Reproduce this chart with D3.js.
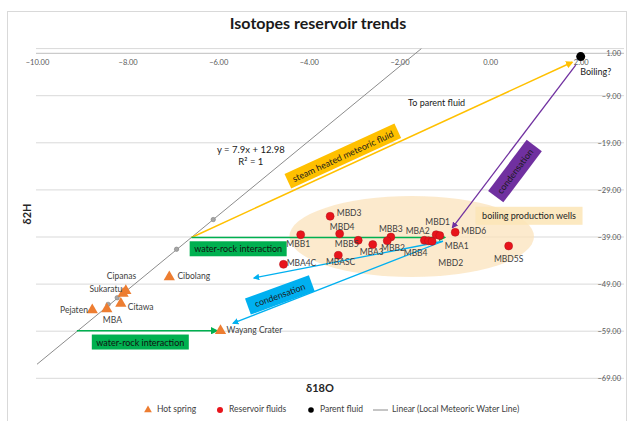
<!DOCTYPE html>
<html><head><meta charset="utf-8">
<script src="https://cdn.jsdelivr.net/npm/d3@7"></script>
<style>
body{margin:0;background:#fff;}
svg{font-family:Lato,"Open Sans","Liberation Sans",sans-serif;}
</style>
</head><body>
<svg id="chart" width="636" height="421"></svg>
<script>
// ---------- DATA ----------
const xTickValues = [-10, -8, -6, -4, -2, 0, 2];
const yTickValues = [1, -9, -19, -29, -39, -49, -59, -69];

const reservoirNames = ["MBD3","MBB1","MBD4","MBB5","MBA3","MBB3","MBB2","MBA2","MBB4","MBD2","MBD1","MBA1","MBD6","MBD5S","MBASC","MBA4C"];
const reservoirD18O  = [-3.53,-4.18,-3.32,-2.91,-2.59,-2.19,-2.27,-1.45,-1.36,-1.28,-1.19,-1.11,-0.77,0.41,-3.35,-4.56];
const reservoirD2H   = [-34.6,-38.5,-38.3,-39.7,-40.6,-39.0,-39.8,-39.7,-39.8,-39.9,-38.5,-38.7,-38.0,-40.9,-42.9,-44.8];

const hotSpringNames = ["Cipanas","Sukaratu","Citawa","MBA","Pejaten","Cibolang","Wayang Crater"];
const hotSpringD18O  = [-8.04,-8.10,-8.15,-8.46,-8.78,-7.08,-5.95];
const hotSpringD2H   = [-50.4,-51.0,-53.1,-54.3,-54.5,-47.5,-58.9];

const parentNames = ["Boiling?"];
const parentD18O  = [2.0];
const parentD2H   = [-0.7];

const lmwlD18O = [-6.11,-6.92,-8.23,-8.43];
const lmwlD2H  = [-35.3,-41.6,-51.9,-53.3];
const lmwlSlope = 7.9, lmwlIntercept = 12.98;

const legendLabels = ["Hot spring","Reservoir fluids","Parent fluid","Linear (Local Meteoric Water Line)"];

// ---------- LAYOUT (label offsets in px, annotations in data units) ----------
const reservoirLabelOffset = {
  MBD3:[19,-2], MBB1:[-2.5,10], MBD4:[2.5,-6], MBB5:[-11.5,4.3], MBA3:[-1,8.8],
  MBB3:[0,-7.5], MBB2:[5.7,7.6], MBA2:[-6.7,-8.3], MBB4:[-12.8,12.6], MBD2:[18.6,22.3],
  MBD1:[1.5,-12], MBA1:[17,11.4], MBD6:[18.5,0], MBD5S:[0,13.5], MBASC:[2.3,7.5], MBA4C:[18,0]
};
const hotLabelOffset = {
  Cipanas:[-4.3,-14], Sukaratu:[-17.3,-3.5], Citawa:[19.8,4], MBA:[5.6,11.7],
  Pejaten:[-18.3,0.7], Cibolang:[24.5,0], "Wayang Crater":[34,0]
};

const arrows = [
  {color:"#FFC000", from:[-6.59,-39.1], to:[1.81,-1.9], w:1.5},
  {color:"#00B050", from:[-6.59,-39.1], to:[-1.00,-39.1], w:1.5},
  {color:"#00B050", from:[-9.12,-58.9], to:[-6.03,-58.9], w:1.5},
  {color:"#7030A0", from:[1.89,-2.5], to:[-0.83,-37.0], w:1.3},
  {color:"#00B0F0", from:[-1.04,-39.9], to:[-5.21,-47.7], w:1.3},
  {color:"#00B0F0", from:[-1.04,-39.9], to:[-5.67,-57.3], w:1.3}
];

const boxes = [
  {text:"steam heated meteoric fluid", c:[-3.25,-21.8], w:121, h:16, fill:"#FFC000", color:"#1a1a1a", alongArrow:0},
  {text:"water-rock interaction", c:[-5.56,-41.5], w:97, h:15, fill:"#00B050", color:"#111", angle:0},
  {text:"water-rock interaction", c:[-7.72,-61.3], w:97, h:15, fill:"#00B050", color:"#111", angle:0},
  {text:"condensation", c:[0.55,-25.0], w:64, h:19, fill:"#7030A0", color:"#1a1a1a", angle:-53},
  {text:"condensation", c:[-4.64,-51.3], w:68, h:17, fill:"#00B0F0", color:"#1a1a1a", angle:-20},
  {text:"boiling production wells", c:[0.86,-34.5], w:107, h:18, fill:"#FCE5B6", color:"#222", angle:0, opacity:0.85}
];

const ellipseData = {cx:-1.73, cy:-38.9, rx:2.7, ry:8.6};

// ---------- CHART ----------
const svg = d3.select("#chart");
const x = d3.scaleLinear().domain([-10, 3]).range([37, 626]);
const y = d3.scaleLinear().domain([-69, 1]).range([378.3, 48.6]);

// frame
svg.append("rect").attr("x",7.5).attr("y",11.5).attr("width",619).attr("height",412)
  .attr("fill","#fff").attr("stroke","#D9D9D9");

// title
svg.append("text").attr("x",318).attr("y",29).attr("text-anchor","middle")
  .attr("font-size",16).attr("font-weight","bold").attr("fill","#1a1a1a")
  .text("Isotopes reservoir trends");

// gridlines (horizontal)
svg.append("g").selectAll("line").data(yTickValues).join("line")
  .attr("x1",x(-10)-1).attr("x2",x(3)-2)
  .attr("y1",d=>y(d)).attr("y2",d=>y(d))
  .attr("stroke","#D9D9D9").attr("stroke-width",1);

// x axis line at y = 0 with labels
const xAxis = d3.axisBottom(x).tickValues(xTickValues).tickSize(0).tickPadding(6)
  .tickFormat(d3.format(".2f"));
const gx = svg.append("g").attr("transform",`translate(0,${y(0)})`).call(xAxis);
gx.select(".domain").attr("stroke","#BFBFBF").attr("d",`M${x(-10)-1},0H${x(3)-2}`);
gx.selectAll("text").attr("font-size",7.5).attr("fill","#595959").attr("font-family","Lato, sans-serif");

// y axis labels on right
const yAxis = d3.axisLeft(y).tickValues(yTickValues).tickSize(0).tickPadding(0)
  .tickFormat(d3.format(".2f"));
const gy = svg.append("g").attr("transform",`translate(621,0)`).call(yAxis);
gy.select(".domain").remove();
gy.selectAll("text").attr("font-size",7.5).attr("fill","#595959").attr("font-family","Lato, sans-serif")
  .attr("dy", d => d===1 ? "0.95em" : "0.32em");

// axis titles
svg.append("text").attr("x",320).attr("y",392).attr("text-anchor","middle")
  .attr("font-size",11).attr("font-weight","bold").attr("fill","#262626").text("δ18O");
svg.append("text").attr("transform","translate(31,214) rotate(-90)").attr("text-anchor","middle")
  .attr("font-size",11).attr("font-weight","bold").attr("fill","#262626").text("δ2H");

// ellipse
svg.append("ellipse")
  .attr("cx",x(ellipseData.cx)).attr("cy",y(ellipseData.cy))
  .attr("rx",x(ellipseData.cx+ellipseData.rx)-x(ellipseData.cx))
  .attr("ry",y(ellipseData.cy-ellipseData.ry)-y(ellipseData.cy))
  .attr("fill","#FBE3BC").attr("opacity",0.75);

// LMWL trendline
const lmwlX0 = -10, lmwlX1 = (1 - lmwlIntercept)/lmwlSlope;
svg.append("line")
  .attr("x1",x(lmwlX0)).attr("y1",y(lmwlSlope*lmwlX0+lmwlIntercept))
  .attr("x2",x(lmwlX1)).attr("y2",y(1))
  .attr("stroke","#8C8C8C").attr("stroke-width",1);
svg.append("g").selectAll("circle").data(lmwlD18O).join("circle")
  .attr("cx",d=>x(d)).attr("cy",(d,i)=>y(lmwlD2H[i])).attr("r",2.2)
  .attr("fill","#A5A5A5").attr("stroke","#7F7F7F").attr("stroke-width",0.6);

// equation
svg.append("text").attr("x",x(-5.28)).attr("y",y(-20.7)).attr("text-anchor","middle")
  .attr("dominant-baseline","middle").attr("font-size",9.5).attr("fill","#1a1a1a").text("y = 7.9x + 12.98");
svg.append("text").attr("x",x(-5.28)).attr("y",y(-23.2)).attr("text-anchor","middle")
  .attr("dominant-baseline","middle").attr("font-size",9.5).attr("fill","#1a1a1a").text("R² = 1");

// arrow markers
const defs = svg.append("defs");
const markerColors = ["#FFC000","#00B050","#7030A0","#00B0F0"];
markerColors.forEach(c=>{
  defs.append("marker").attr("id","arr"+c.slice(1)).attr("viewBox","0 0 10 10")
    .attr("refX",8).attr("refY",5).attr("markerWidth",5).attr("markerHeight",5)
    .attr("orient","auto-start-reverse").attr("markerUnits","strokeWidth")
    .append("path").attr("d","M0,0L10,5L0,10z").attr("fill",c);
});

// arrows
svg.append("g").selectAll("line").data(arrows).join("line")
  .attr("x1",d=>x(d.from[0])).attr("y1",d=>y(d.from[1]))
  .attr("x2",d=>x(d.to[0])).attr("y2",d=>y(d.to[1]))
  .attr("stroke",d=>d.color).attr("stroke-width",d=>d.w)
  .attr("marker-end",d=>`url(#arr${d.color.slice(1)})`);

// boxes
boxes.forEach(b=>{
  let ang = b.angle || 0;
  if (b.alongArrow !== undefined) {
    const a = arrows[b.alongArrow];
    ang = Math.atan2(y(a.to[1])-y(a.from[1]), x(a.to[0])-x(a.from[0]))*180/Math.PI;
  }
  const g = svg.append("g").attr("transform",`translate(${x(b.c[0])},${y(b.c[1])}) rotate(${ang})`);
  g.append("rect").attr("x",-b.w/2).attr("y",-b.h/2).attr("width",b.w).attr("height",b.h)
    .attr("fill",b.fill).attr("opacity",b.opacity||1);
  g.append("text").attr("text-anchor","middle").attr("dominant-baseline","central")
    .attr("font-size",9).attr("fill",b.color).text(b.text);
});

// "To parent fluid"
svg.append("text").attr("x",x(-1.18)).attr("y",y(-10.8)).attr("text-anchor","middle")
  .attr("dominant-baseline","middle").attr("font-size",9).attr("fill","#1a1a1a").text("To parent fluid");

// hot springs
const tri = d3.symbol().type(d3.symbolTriangle).size(55);
svg.append("g").selectAll("path").data(hotSpringNames).join("path")
  .attr("d",tri)
  .attr("transform",(d,i)=>`translate(${x(hotSpringD18O[i])},${y(hotSpringD2H[i])})`)
  .attr("fill","#ED7D31");
svg.append("g").selectAll("text").data(hotSpringNames).join("text")
  .attr("x",(d,i)=>x(hotSpringD18O[i])+hotLabelOffset[d][0])
  .attr("y",(d,i)=>y(hotSpringD2H[i])+hotLabelOffset[d][1])
  .attr("text-anchor","middle").attr("dominant-baseline","middle")
  .attr("font-size",8.5).attr("fill","#404040").text(d=>d);

// reservoir fluids
svg.append("g").selectAll("circle").data(reservoirNames).join("circle")
  .attr("cx",(d,i)=>x(reservoirD18O[i])).attr("cy",(d,i)=>y(reservoirD2H[i])).attr("r",4)
  .attr("fill","#E8141B").attr("stroke","#B0101A").attr("stroke-width",0.5);
svg.append("g").selectAll("text").data(reservoirNames).join("text")
  .attr("x",(d,i)=>x(reservoirD18O[i])+reservoirLabelOffset[d][0])
  .attr("y",(d,i)=>y(reservoirD2H[i])+reservoirLabelOffset[d][1])
  .attr("text-anchor","middle").attr("dominant-baseline","middle")
  .attr("font-size",8.5).attr("fill","#404040").text(d=>d);

// parent fluid
svg.append("g").selectAll("circle").data(parentNames).join("circle")
  .attr("cx",(d,i)=>x(parentD18O[i])).attr("cy",(d,i)=>y(parentD2H[i])).attr("r",4.5)
  .attr("fill","#000");
svg.append("g").selectAll("text").data(parentNames).join("text")
  .attr("x",(d,i)=>x(parentD18O[i])+15).attr("y",(d,i)=>y(parentD2H[i])+16.5)
  .attr("text-anchor","middle").attr("dominant-baseline","middle")
  .attr("font-size",9).attr("fill","#1a1a1a").text(d=>d);

// legend
const lg = svg.append("g").attr("transform","translate(0,410)");
const legendX = [148, 220, 311, 380];
lg.append("path").attr("d",d3.symbol().type(d3.symbolTriangle).size(26)).attr("transform",`translate(${legendX[0]},0)`).attr("fill","#ED7D31");
lg.append("circle").attr("cx",legendX[1]).attr("cy",0).attr("r",3).attr("fill","#E8141B");
lg.append("circle").attr("cx",legendX[2]).attr("cy",0).attr("r",2.8).attr("fill","#000");
lg.append("line").attr("x1",legendX[3]-7).attr("x2",legendX[3]+8).attr("y1",0).attr("y2",0).attr("stroke","#8C8C8C");
legendLabels.forEach((t,i)=>{
  lg.append("text").attr("x",legendX[i]+(i===3?12:9)).attr("y",0).attr("dominant-baseline","middle")
    .attr("font-size",8.5).attr("fill","#404040").text(t);
});
</script>
</body></html>
